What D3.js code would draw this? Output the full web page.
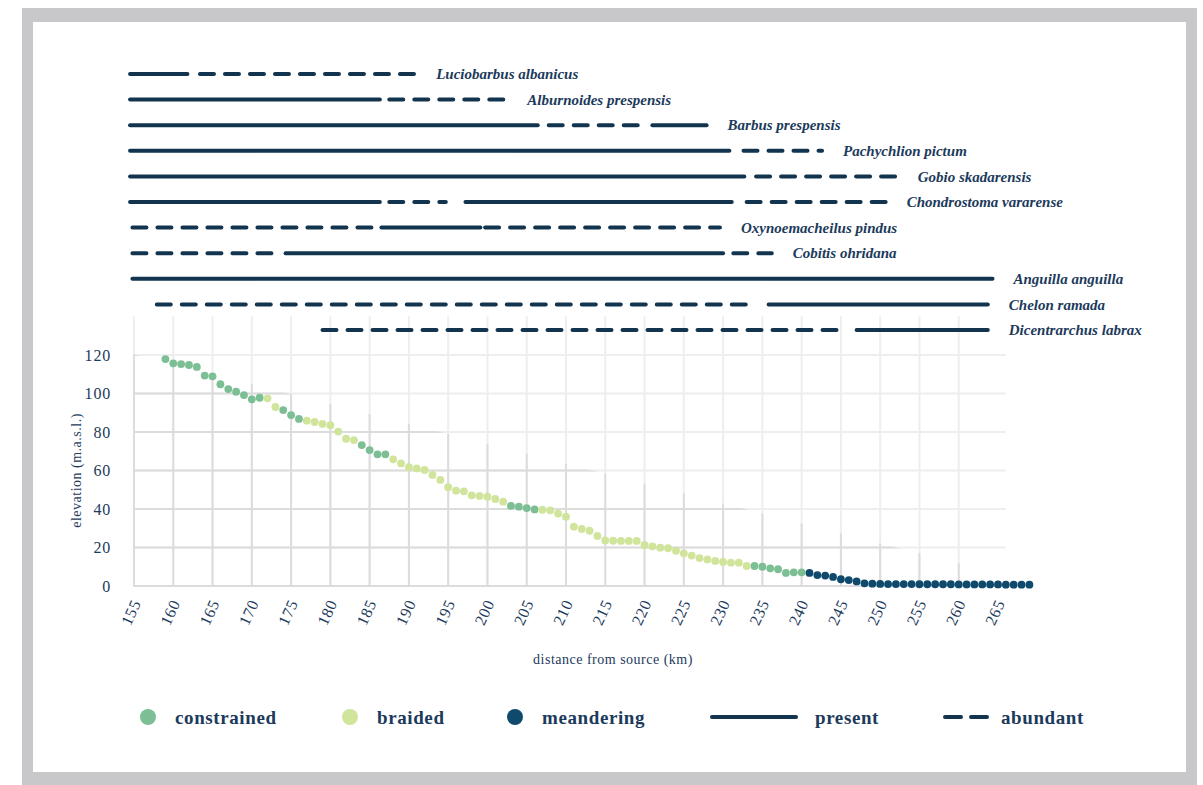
<!DOCTYPE html>
<html>
<head>
<meta charset="utf-8">
<script src="https://cdn.jsdelivr.net/npm/d3@7"></script>
<style>
  html, body { margin: 0; padding: 0; background: #ffffff; }
  svg { display: block; font-family: "Liberation Serif", "Times New Roman", serif; }
</style>
</head>
<body>
<svg id="chart" width="1203" height="785"></svg>
<script>
// Surveyed reaches: distance from source (km) and elevation (m a.s.l.)
const distanceKm = [
  159, 160, 161, 162, 163, 164, 165, 166, 167, 168, 169,
  170, 171, 172, 173, 174, 175, 176, 177, 178, 179,
  180, 181, 182, 183, 184, 185, 186, 187, 188, 189,
  190, 191, 192, 193, 194, 195, 196, 197, 198, 199,
  200, 201, 202, 203, 204, 205, 206, 207, 208, 209,
  210, 211, 212, 213, 214, 215, 216, 217, 218, 219,
  220, 221, 222, 223, 224, 225, 226, 227, 228, 229,
  230, 231, 232, 233, 234, 235, 236, 237, 238, 239,
  240, 241, 242, 243, 244, 245, 246, 247, 248, 249,
  250, 251, 252, 253, 254, 255, 256, 257, 258, 259,
  260, 261, 262, 263, 264, 265, 266, 267, 268, 269
];
const elevation = [
  117.9, 115.7, 115.3, 114.8, 113.8, 109.3, 108.9, 104.8, 102.3, 100.9, 99.2,
  97.0, 97.8, 97.5, 93.0, 91.4, 88.8, 86.8, 85.9, 85.2, 84.2,
  83.5, 80.2, 76.5, 75.8, 73.2, 70.6, 68.4, 68.4, 65.8, 63.7,
  61.7, 61.1, 60.3, 57.7, 55.1, 51.3, 49.5, 49.2, 47.1, 46.8,
  46.4, 45.2, 43.8, 41.6, 41.2, 40.5, 39.8, 39.6, 39.3, 37.6,
  36.0, 30.8, 29.6, 28.7, 26.0, 23.7, 23.5, 23.4, 23.4, 23.4,
  21.3, 20.6, 19.9, 19.6, 18.3, 17.0, 15.8, 14.5, 13.8, 13.0,
  12.5, 12.1, 12.1, 10.4, 10.4, 10.0, 9.2, 8.7, 6.8, 7.1,
  7.1, 6.8, 5.7, 5.4, 4.7, 3.5, 3.1, 2.4, 1.4, 1.2,
  1.1, 1.0, 1.0, 1.0, 1.0, 0.9, 0.9, 0.9, 0.9, 0.9,
  0.8, 0.8, 0.8, 0.8, 0.8, 0.8, 0.7, 0.7, 0.7, 0.7
];
// Channel type of each reach: C = constrained, B = braided, M = meandering
const morphology = [
  "C","C","C","C","C","C","C","C","C","C","C",
  "C","C","B","B","C","C","C","B","B","B",
  "B","B","B","B","C","C","C","C","B","B",
  "B","B","B","B","B","B","B","B","B","B",
  "B","B","B","C","C","C","C","B","B","B",
  "B","B","B","B","B","B","B","B","B","B",
  "B","B","B","B","B","B","B","B","B","B",
  "B","B","B","B","C","C","C","C","C","C",
  "C","M","M","M","M","M","M","M","M","M",
  "M","M","M","M","M","M","M","M","M","M",
  "M","M","M","M","M","M","M","M","M","M"
];
const morphologyNames = { C: "constrained", B: "braided", M: "meandering" };
const morphologyColors = { constrained: "#7dbf95", braided: "#d1e49c", meandering: "#0f4a6d" };

const xTicks = [155, 160, 165, 170, 175, 180, 185, 190, 195, 200, 205, 210, 215, 220, 225, 230, 235, 240, 245, 250, 255, 260, 265];
const yTicks = [0, 20, 40, 60, 80, 100, 120];

// Fish species and the river stretches (km) where each is present or abundant
const species = [
  "Luciobarbus albanicus", "Alburnoides prespensis", "Barbus prespensis", "Pachychlion pictum",
  "Gobio skadarensis", "Chondrostoma vararense", "Oxynoemacheilus pindus", "Cobitis ohridana",
  "Anguilla anguilla", "Chelon ramada", "Dicentrarchus labrax"
];
const speciesStretches = [
  [[154.5, 161.8, "present"], [163.4, 190.8, "abundant"]],
  [[154.5, 186.3, "present"], [187.5, 202.4, "abundant"]],
  [[154.5, 206.4, "present"], [207.8, 219.8, "abundant"], [221.0, 227.9, "present"]],
  [[154.5, 230.8, "present"], [232.6, 242.6, "abundant"]],
  [[154.5, 232.7, "present"], [234.2, 252.1, "abundant"]],
  [[154.5, 186.3, "present"], [187.5, 194.7, "abundant"], [197.2, 231.1, "present"], [233.0, 250.7, "abundant"]],
  [[154.8, 186.0, "abundant"], [186.5, 199.1, "present"], [199.7, 229.6, "abundant"]],
  [[154.8, 172.7, "abundant"], [174.3, 230.0, "present"], [231.3, 236.2, "abundant"]],
  [[154.8, 264.3, "present"]],
  [[157.9, 234.2, "abundant"], [235.8, 263.7, "present"]],
  [[179.0, 245.5, "abundant"], [247.0, 263.7, "present"]]
];

const legendItems = [
  { label: "constrained", kind: "dot" },
  { label: "braided", kind: "dot" },
  { label: "meandering", kind: "dot" },
  { label: "present", kind: "present" },
  { label: "abundant", kind: "abundant" }
];

// ---- styling ----
const ink = "#1c3a5b";
const lineInk = "#12344f";
const gridStrong = "#dcdcdc";
const gridFaint = "#eeeeee";
const dashPattern = "14,11";

const svg = d3.select("#chart");

// frame
svg.append("rect").attr("x", 22).attr("y", 8).attr("width", 1175).attr("height", 777).attr("fill", "#c8c8ca");
svg.append("rect").attr("x", 33).attr("y", 22).attr("width", 1153).attr("height", 750).attr("fill", "#ffffff");

// scales
const x = d3.scaleLinear().domain([155, 265]).range([134, 998]);
const y = d3.scaleLinear().domain([0, 140]).range([586, 316.5]);
const rowY = d3.scalePoint().domain(species).range([74, 330]);

// ---- grid: drawn faint everywhere, then crisp below a diagonal ----
function drawGrid(g, color) {
  g.selectAll("line.v").data(xTicks.slice(0, -1)).join("line")
    .attr("class", "v")
    .attr("x1", d => x(d)).attr("x2", d => x(d))
    .attr("y1", y(0)).attr("y2", y(140))
    .attr("stroke", color).attr("stroke-width", 2);
  g.selectAll("line.h").data(yTicks).join("line")
    .attr("class", "h")
    .attr("x1", x(155) - 1).attr("x2", x(266))
    .attr("y1", d => y(d)).attr("y2", d => y(d))
    .attr("stroke", color).attr("stroke-width", 2);
}
const defs = svg.append("defs");
const fadeFrom = [150, 125.5], fadeTo = [270, 1.5];
defs.append("clipPath").attr("id", "gridClip")
  .append("polygon")
  .attr("points", [
    [x(fadeFrom[0]), y(fadeFrom[1])],
    [x(fadeTo[0]), y(fadeTo[1])],
    [x(fadeTo[0]), y(0) + 4],
    [x(fadeFrom[0]), y(0) + 4]
  ].map(p => p.join(",")).join(" "));

drawGrid(svg.append("g"), gridFaint);
drawGrid(svg.append("g").attr("clip-path", "url(#gridClip)"), gridStrong);

// ---- axes labels ----
svg.append("g").selectAll("text").data(yTicks).join("text")
  .attr("x", 111).attr("y", d => y(d)).attr("dy", "0.35em")
  .attr("text-anchor", "end")
  .attr("font-size", 16).attr("letter-spacing", 0.8)
  .attr("fill", ink)
  .text(d => d);

svg.append("g").selectAll("text").data(xTicks).join("text")
  .attr("transform", d => `translate(${x(d) + 3},${601}) rotate(-65)`)
  .attr("text-anchor", "end")
  .attr("dy", "0.3em")
  .attr("font-size", 16).attr("letter-spacing", 0.6)
  .attr("fill", ink)
  .text(d => d);

svg.append("text")
  .attr("transform", `translate(76,${(y(0) + y(120)) / 2}) rotate(-90)`)
  .attr("text-anchor", "middle").attr("dy", "0.35em")
  .attr("font-size", 14).attr("letter-spacing", 0.5)
  .attr("fill", ink)
  .text("elevation (m.a.s.l.)");

svg.append("text")
  .attr("x", 613).attr("y", 659).attr("dy", "0.35em")
  .attr("text-anchor", "middle")
  .attr("font-size", 14).attr("letter-spacing", 0.5)
  .attr("fill", ink)
  .text("distance from source (km)");

// ---- elevation profile ----
const reaches = distanceKm.map((d, i) => ({ km: d, elev: elevation[i], type: morphologyNames[morphology[i]] }));
svg.append("g").selectAll("circle").data(reaches).join("circle")
  .attr("cx", d => x(d.km)).attr("cy", d => y(d.elev)).attr("r", 3.9)
  .attr("fill", d => morphologyColors[d.type]);

// ---- species ranges ----
const rows = svg.append("g").selectAll("g").data(species).join("g")
  .attr("transform", d => `translate(0,${rowY(d)})`);

rows.selectAll("line").data((d, i) => speciesStretches[i]).join("line")
  .attr("x1", s => x(s[0])).attr("x2", s => x(s[1]))
  .attr("y1", 0).attr("y2", 0)
  .attr("stroke", lineInk).attr("stroke-width", 4)
  .attr("stroke-linecap", "round")
  .attr("stroke-dasharray", s => s[2] === "abundant" ? dashPattern : null);

rows.append("text")
  .attr("x", (d, i) => x(d3.max(speciesStretches[i], s => s[1])) + 21)
  .attr("dy", "0.35em")
  .attr("font-size", 15).attr("font-style", "italic").attr("font-weight", "bold")
  .attr("fill", ink)
  .text(d => d);

// ---- legend ----
const legendX = [148, 350, 515, 712, 943];
const legendY = 717;
const legend = svg.append("g").selectAll("g").data(legendItems).join("g")
  .attr("transform", (d, i) => `translate(${legendX[i]},${legendY})`);

legend.filter(d => d.kind === "dot").append("circle")
  .attr("r", 8).attr("fill", d => morphologyColors[d.label]);
legend.filter(d => d.kind === "present").append("line")
  .attr("x1", 0).attr("x2", 84).attr("stroke", lineInk).attr("stroke-width", 4).attr("stroke-linecap", "round");
legend.filter(d => d.kind === "abundant").append("line")
  .attr("x1", 2).attr("x2", 44).attr("stroke", lineInk).attr("stroke-width", 4).attr("stroke-linecap", "round")
  .attr("stroke-dasharray", "16,10");

legend.append("text")
  .attr("x", d => d.kind === "dot" ? 27 : d.kind === "present" ? 103 : 58)
  .attr("dy", "0.35em")
  .attr("font-size", 19).attr("font-weight", "bold").attr("letter-spacing", 0.6)
  .attr("fill", ink)
  .text(d => d.label);
</script>
</body>
</html>
